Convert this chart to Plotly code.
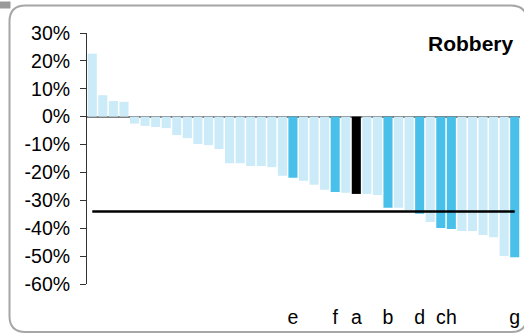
import plotly.graph_objects as go

# ---- data ----
values = [0.226, 0.077, 0.056, 0.053, -0.025, -0.033, -0.037, -0.041, -0.066, -0.077,
          -0.098, -0.102, -0.116, -0.167, -0.167, -0.177, -0.177, -0.181, -0.212, -0.219,
          -0.230, -0.244, -0.262, -0.270, -0.273, -0.277, -0.277, -0.281, -0.327, -0.327,
          -0.336, -0.348, -0.378, -0.399, -0.403, -0.410, -0.410, -0.424, -0.432, -0.500,
          -0.504]
labels = ["", "", "", "", "", "", "", "", "", "",
          "", "", "", "", "", "", "", "", "", "e",
          "", "", "", "f", "", "a", "", "", "b", "",
          "", "d", "", "c", "h", "", "", "", "", "",
          "g"]
groups = ["o", "o", "o", "o", "o", "o", "o", "o", "o", "o",
          "o", "o", "o", "o", "o", "o", "o", "o", "o", "h",
          "o", "o", "o", "h", "o", "a", "o", "o", "h", "o",
          "o", "h", "o", "h", "h", "o", "o", "o", "o", "o",
          "h"]
mean_value = -0.34
y_tick_vals = [0.3, 0.2, 0.1, 0.0, -0.1, -0.2, -0.3, -0.4, -0.5, -0.6]
y_tick_text = ["30%", "20%", "10%", "0%", "-10%", "-20%", "-30%", "-40%", "-50%", "-60%"]
title_text = "Robbery"

# ---- styling ----
W, H = 524, 334
ML, MR, MT, MB = 87, 4, 33, 50
PW, PH = W - ML - MR, H - MT - MB
color_map = {"o": "#CCEBF8", "h": "#49C0EA", "a": "#000000"}
FONT = "Liberation Sans, Arial, sans-serif"

def px(x):
    return (x - ML) / PW

def py(y):
    return (H - MB - y) / PH

xs = list(range(len(values)))

fig = go.Figure()
fig.add_trace(go.Bar(
    x=xs, y=values,
    marker=dict(color=[color_map[g] for g in groups], line=dict(width=0)),
    hoverinfo="skip",
))
fig.add_trace(go.Scatter(
    x=xs, y=[mean_value] * len(xs), mode="lines",
    line=dict(color="#000000", width=2.5), hoverinfo="skip",
))

# rounded border
L, T, R, B, r = 9.5, 5.5, 527, 332, 16
path = (f"M {px(L)} {py(T + r)} Q {px(L)} {py(T)} {px(L + r)} {py(T)} "
        f"L {px(R - r)} {py(T)} Q {px(R)} {py(T)} {px(R)} {py(T + r)} "
        f"L {px(R)} {py(B - r)} Q {px(R)} {py(B)} {px(R - r)} {py(B)} "
        f"L {px(L + r)} {py(B)} Q {px(L)} {py(B)} {px(L)} {py(B - r)} Z")
fig.add_shape(type="path", path=path, xref="paper", yref="paper",
              line=dict(color="#A6A6A6", width=2), fillcolor="rgba(0,0,0,0)", layer="below")
fig.add_shape(type="rect", xref="paper", yref="paper",
              x0=px(0), x1=px(10.5), y0=py(1.5), y1=py(8.5),
              line=dict(width=0), fillcolor="#999999", layer="below")

fig.add_annotation(text=f"<b>{title_text}</b>", xref="paper", yref="paper",
                   x=px(516), y=py(44), xanchor="right", yanchor="middle",
                   showarrow=False, font=dict(size=21, color="#000000", family=FONT))

tick_pos = [i for i, t in enumerate(labels) if t]
tick_lab = [labels[i] for i in tick_pos]

fig.update_layout(
    width=W, height=H,
    margin=dict(l=ML, r=MR, t=MT, b=MB),
    paper_bgcolor="#FFFFFF", plot_bgcolor="#FFFFFF",
    showlegend=False, bargap=0.14,
    font=dict(family=FONT, size=19.5, color="#000000"),
    xaxis=dict(range=[-0.5, len(values) - 0.5], tickmode="array",
               tickvals=tick_pos, ticktext=tick_lab, showgrid=False,
               zeroline=False, showline=False, ticks="", ticklabelstandoff=19,
               tickangle=0, tickfont=dict(size=19.5), fixedrange=True),
    yaxis=dict(range=[-0.6, 0.3], tickmode="array", tickvals=y_tick_vals,
               ticktext=y_tick_text, showgrid=False, zeroline=True,
               zerolinecolor="#7F7F7F", zerolinewidth=2,
               showline=True, linecolor="#333333", linewidth=1,
               ticks="outside", ticklen=6, tickcolor="#333333",
               ticklabelstandoff=6, tickfont=dict(size=19.5), fixedrange=True),
)

fig.write_html("out.html", config={"displayModeBar": False},
               post_script="document.body.style.margin='0';document.body.style.padding='0';")
